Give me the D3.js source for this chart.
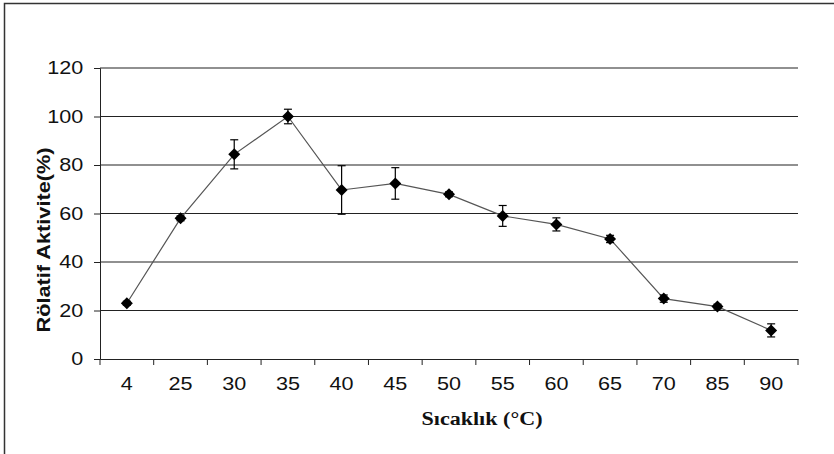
<!DOCTYPE html>
<html>
<head>
<meta charset="utf-8">
<script src="https://cdn.jsdelivr.net/npm/d3@7"></script>
<style>
  body { margin: 0; background: #fff; }
  svg { display: block; }
</style>
</head>
<body>
<svg id="chart" width="834" height="454"></svg>
<script>
// veriler
var categories = ["4", "25", "30", "35", "40", "45", "50", "55", "60", "65", "70", "85", "90"];
var values = [23, 58, 84.4, 100, 69.7, 72.4, 67.9, 59, 55.5, 49.5, 24.9, 21.6, 11.8];
var errors = [0.8, 1, 6, 3, 10, 6.5, 1, 4.3, 2.7, 1.5, 1.5, 1, 2.7];
var yTicks = [0, 20, 40, 60, 80, 100, 120];

var svg = d3.select("#chart");

// çerçeve
svg.append("rect")
  .attr("x", 4.5).attr("y", 3.5)
  .attr("width", 840).attr("height", 460)
  .attr("fill", "none").attr("stroke", "#333").attr("stroke-width", 1.5);

var pLeft = 100, pRight = 798, pTop = 68, pBottom = 359;

var x = d3.scaleBand().domain(categories).range([pLeft, pRight]);
var y = d3.scaleLinear().domain([0, 120]).range([pBottom, pTop]);

// yatay ızgara
svg.append("g").selectAll("line")
  .data(yTicks.filter(function(d) { return d > 0; }))
  .join("line")
  .attr("x1", pLeft).attr("x2", pRight)
  .attr("y1", function(d) { return y(d); })
  .attr("y2", function(d) { return y(d); })
  .attr("stroke", "#222").attr("stroke-width", 1.2);

// y ekseni
var yAxis = svg.append("g")
  .attr("transform", "translate(" + pLeft + ",0)")
  .call(d3.axisLeft(y).tickValues(yTicks).tickSize(6).tickPadding(8));
yAxis.select(".domain").attr("stroke", "#222");
yAxis.selectAll(".tick line").attr("stroke", "#222");
yAxis.selectAll("text")
  .attr("font-family", "Liberation Sans, Arial, sans-serif")
  .attr("font-size", 18).attr("fill", "#111")
  .attr("transform", "scale(1.2,1)");

// x ekseni
var xAxis = svg.append("g")
  .attr("transform", "translate(0," + pBottom + ")")
  .call(d3.axisBottom(x).tickSize(0).tickPadding(18));
xAxis.select(".domain").attr("stroke", "#222");
xAxis.selectAll("text")
  .attr("font-family", "Liberation Sans, Arial, sans-serif")
  .attr("font-size", 18).attr("fill", "#111")
  .attr("transform", "scale(1.2,1)");

// x ekseni çentikleri (kategori sınırları)
svg.append("g").selectAll("line")
  .data(categories.concat(["end"]))
  .join("line")
  .attr("x1", function(d, i) { return pLeft + i * x.step(); })
  .attr("x2", function(d, i) { return pLeft + i * x.step(); })
  .attr("y1", pBottom).attr("y2", pBottom + 6)
  .attr("stroke", "#222");

var cx = function(d, i) { return x(categories[i]) + x.bandwidth() / 2; };

// çizgi
svg.append("path")
  .datum(values)
  .attr("d", d3.line().x(cx).y(function(d) { return y(d); }))
  .attr("fill", "none").attr("stroke", "#555").attr("stroke-width", 1.2);

// hata çubukları
var eb = svg.append("g").attr("stroke", "#000").attr("stroke-width", 1.2);
values.forEach(function(v, i) {
  var px = cx(v, i);
  eb.append("line")
    .attr("x1", px).attr("x2", px)
    .attr("y1", y(v + errors[i])).attr("y2", y(v - errors[i]));
  [v + errors[i], v - errors[i]].forEach(function(e) {
    eb.append("line")
      .attr("x1", px - 4).attr("x2", px + 4)
      .attr("y1", y(e)).attr("y2", y(e));
  });
});

// elmas işaretler
svg.append("g").selectAll("path")
  .data(values)
  .join("path")
  .attr("transform", function(d, i) { return "translate(" + cx(d, i) + "," + y(d) + ")"; })
  .attr("d", "M0,-6L6,0L0,6L-6,0Z")
  .attr("fill", "#000");

// eksen başlıkları
svg.append("text")
  .attr("x", 482).attr("y", 425)
  .attr("text-anchor", "middle")
  .attr("font-family", "Liberation Serif, Times New Roman, serif")
  .attr("font-weight", "bold").attr("font-size", 18)
  .attr("textLength", 121).attr("lengthAdjust", "spacingAndGlyphs")
  .attr("fill", "#111")
  .text("Sıcaklık (°C)");

svg.append("text")
  .attr("transform", "translate(50,240) rotate(-90)")
  .attr("text-anchor", "middle")
  .attr("font-family", "Liberation Sans, Arial, sans-serif")
  .attr("font-weight", "bold").attr("font-size", 18)
  .attr("textLength", 185).attr("lengthAdjust", "spacingAndGlyphs")
  .attr("fill", "#111")
  .text("Rölatif Aktivite(%)");
</script>
</body>
</html>
